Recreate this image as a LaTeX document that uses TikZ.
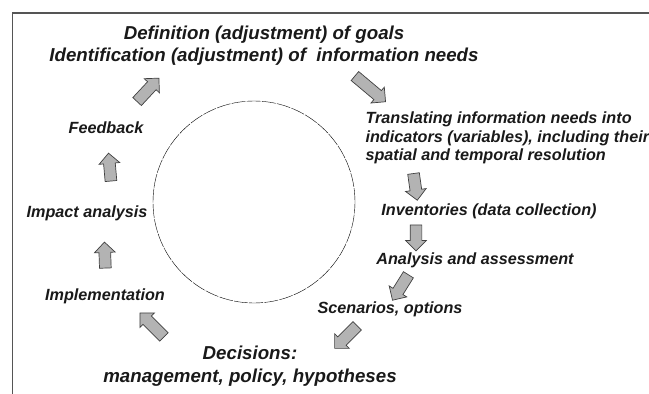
\documentclass[tikz,border=0pt]{standalone}
\usepackage{fontspec}
\setmainfont{Liberation Sans}
\usepackage{tikz}
\usetikzlibrary{shapes.arrows}

\definecolor{arrowgray}{HTML}{B3B3B3}
\definecolor{framegray}{HTML}{555555}

\begin{document}
\begin{tikzpicture}[
  x=1pt, y=-1pt,
  every node/.style={font=\bfseries\itshape, text=black!90},
  big/.style={font=\fontsize{18.7}{22.5}\selectfont\bfseries\itshape, align=center},
  small/.style={font=\fontsize{16.2}{18.5}\selectfont\bfseries\itshape},
  fat/.style={single arrow, draw=black!75, fill=arrowgray, line width=0.7pt,
    minimum height=26pt, single arrow head extend=4.5pt, inner sep=5.5pt,
    rotate=#1},
]
\clip (0,0) rectangle (649,394);
% outer frame, only its top and left edges are in view
\draw[framegray, line width=1.2pt] (12.5,13) rectangle (700,450);
\node[circle, draw, thin, dash pattern=on 14pt off 1.2pt,
      minimum size=202pt, inner sep=0pt] (cyc) at (254,202) {};

% steps round the cycle
\node[big] (goals) at (264,45.5)
  {Definition (adjustment) of goals\\Identification (adjustment) of \ information needs};
\node[small, align=left, anchor=west] (transl) at (362,138)
  {Translating information needs into\\indicators (variables), including their\\spatial and temporal resolution};
\node[small] (invent) at (489,211) {Inventories (data collection)};
\node[small] (anal)   at (475,260) {Analysis and assessment};
\node[small] (scen)   at (390,309) {Scenarios, options};
\node[big]   (decis)  at (250,366) {Decisions:\\management, policy, hypotheses};
\node[small] (impl)   at (105,296) {Implementation};
\node[small] (impact) at (87,213)  {Impact analysis};
\node[small] (feedb)  at (106,128) {Feedback};

% block arrows between the steps
\node[fat=47, minimum height=32pt]   (a1) at (146,92)  {};
\node[fat=-40, minimum height=40pt]  (a2) at (368,87)  {};
\node[fat=-82, minimum height=27pt]  (a3) at (415,184) {};
\node[fat=-90]                       (a4) at (416,235) {};
\node[fat=-122, minimum height=30pt] (a5) at (402,285) {};
\node[fat=-135, minimum height=32pt] (a6) at (348,335) {};
\node[fat=135, minimum height=34pt]  (a7) at (154,327) {};
\node[fat=92]                        (a8) at (105,258) {};
\node[fat=95, minimum height=28pt]   (a9) at (110,170) {};
\end{tikzpicture}
\end{document}
